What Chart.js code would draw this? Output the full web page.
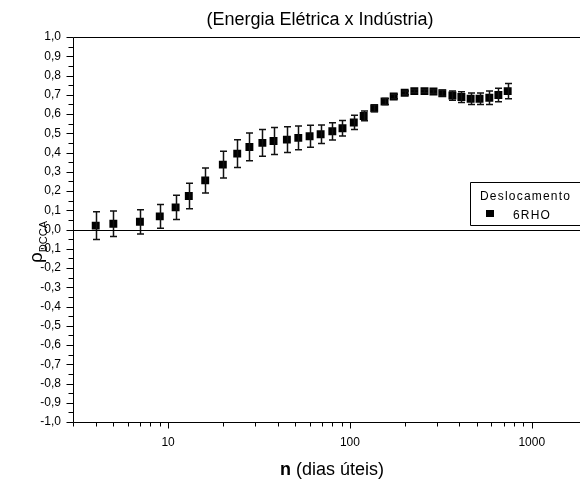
<!DOCTYPE html>
<html>
<head>
<meta charset="utf-8">
<script src="https://cdn.jsdelivr.net/npm/chart.js@4.4.1/dist/chart.umd.min.js"></script>
<style>
  html, body { margin: 0; padding: 0; background: #fff; }
  #wrap { width: 580px; height: 482px; }
</style>
</head>
<body>
<div id="wrap"><canvas id="myChart" width="580" height="482"></canvas></div>
<script>
const chartTitle = "(Energia Elétrica x Indústria)";
const legendTitle = "Deslocamento";
const seriesName = "6RHO";
const xTickLabels = [10, 100, 1000];

// n (dias úteis)
const nDays = [4, 5, 7, 9, 11, 13, 16, 20, 24, 28, 33, 38, 45, 52, 60, 69, 80, 91, 105,
  119, 136, 155, 174, 200, 226, 257, 288, 322, 366, 410, 461, 516, 584, 655, 737];
// rho DCCA
const rho = [0.02, 0.03, 0.04, 0.068, 0.115, 0.174, 0.255, 0.337, 0.394, 0.429, 0.45, 0.46,
  0.467, 0.476, 0.484, 0.495, 0.51, 0.526, 0.556, 0.59, 0.63, 0.665, 0.691, 0.71, 0.719,
  0.719, 0.717, 0.708, 0.696, 0.688, 0.679, 0.679, 0.684, 0.699, 0.719];
// half-width of the error bars
const rhoErr = [0.072, 0.066, 0.063, 0.062, 0.063, 0.066, 0.065, 0.07, 0.072, 0.072, 0.07,
  0.07, 0.067, 0.062, 0.057, 0.048, 0.045, 0.04, 0.037, 0.025, 0.018, 0.015, 0.012, 0.01,
  0.008, 0.008, 0.01, 0.015, 0.024, 0.028, 0.03, 0.03, 0.035, 0.035, 0.04];

const points = nDays.map((n, i) => ({ x: n, y: rho[i] }));
const FONT = "'Liberation Sans', Arial, sans-serif";

function fmtComma(v) {
  let s = (Math.abs(v) < 1e-9 ? 0 : v).toFixed(1);
  return s.replace(".", ",");
}

// error bars, axis frame, minor ticks, titles and legend box
const decorations = {
  id: "decorations",
  afterDatasetsDraw(chart) {
    const ctx = chart.ctx;
    const xs = chart.scales.x;
    const ys = chart.scales.y;

    ctx.save();
    ctx.strokeStyle = "#111";
    ctx.lineWidth = 1.5;
    nDays.forEach((n, i) => {
      const px = Math.round(xs.getPixelForValue(n)) + 0.5;
      const top = ys.getPixelForValue(rho[i] + rhoErr[i]);
      const bot = ys.getPixelForValue(rho[i] - rhoErr[i]);
      ctx.beginPath();
      ctx.moveTo(px, top);
      ctx.lineTo(px, bot);
      ctx.moveTo(px - 3.5, top);
      ctx.lineTo(px + 3.5, top);
      ctx.moveTo(px - 3.5, bot);
      ctx.lineTo(px + 3.5, bot);
      ctx.stroke();
    });
    ctx.restore();
  },
  afterDraw(chart) {
    const ctx = chart.ctx;
    const xs = chart.scales.x;
    const ys = chart.scales.y;
    const area = chart.chartArea;
    const W = chart.width;

    ctx.save();
    ctx.strokeStyle = "#000";
    ctx.lineWidth = 1;

    // frame: left, bottom, top (running off the right edge); zero line
    const L = Math.round(area.left) + 0.5;
    const B = Math.round(area.bottom) + 0.5;
    const T = Math.round(area.top) + 0.5;
    const Z = Math.round(ys.getPixelForValue(0)) + 0.5;
    ctx.beginPath();
    ctx.moveTo(L, T); ctx.lineTo(W, T);
    ctx.moveTo(L, T); ctx.lineTo(L, B);
    ctx.moveTo(L, B); ctx.lineTo(W, B);
    ctx.moveTo(L, Z); ctx.lineTo(W, Z);
    ctx.stroke();

    // y ticks every 0.05, longer on the labelled ones
    ctx.beginPath();
    for (let k = -20; k <= 20; k++) {
      const py = Math.round(ys.getPixelForValue(k / 20)) + 0.5;
      const len = k % 2 === 0 ? 7 : 5;
      ctx.moveTo(L - len, py);
      ctx.lineTo(L, py);
    }
    // x ticks on the log axis
    for (let dec = 1; dec <= 1000; dec *= 10) {
      for (let m = 1; m <= 9; m++) {
        const v = m * dec;
        if (v < xs.min || v > xs.max) continue;
        const px = Math.round(xs.getPixelForValue(v)) + 0.5;
        const len = m === 1 ? 6 : 4;
        ctx.moveTo(px, B);
        ctx.lineTo(px, B + len);
      }
    }
    ctx.stroke();

    // chart title
    ctx.fillStyle = "#000";
    ctx.font = "18px " + FONT;
    ctx.textAlign = "center";
    ctx.textBaseline = "middle";
    ctx.fillText(chartTitle, 320, 20);

    // x axis title: bold n followed by the unit
    ctx.textAlign = "left";
    ctx.textBaseline = "alphabetic";
    ctx.font = "bold 18px " + FONT;
    const nW = ctx.measureText("n").width;
    ctx.font = "18px " + FONT;
    const restW = ctx.measureText(" (dias úteis)").width;
    const startX = 332 - (nW + restW) / 2;
    ctx.font = "bold 18px " + FONT;
    ctx.fillText("n", startX, 475);
    ctx.font = "18px " + FONT;
    ctx.fillText(" (dias úteis)", startX + nW, 475);

    // y axis title: rho with DCCA subscript
    ctx.save();
    ctx.translate(42, 242);
    ctx.rotate(-Math.PI / 2);
    ctx.font = "19px " + FONT;
    const rW = ctx.measureText("ρ").width;
    ctx.font = "11px " + FONT;
    const sW = ctx.measureText("DCCA").width;
    const x0 = -(rW + sW) / 2;
    ctx.font = "19px " + FONT;
    ctx.fillText("ρ", x0, 0);
    ctx.font = "11px " + FONT;
    ctx.fillText("DCCA", x0 + rW, 5);
    ctx.restore();

    // legend box
    ctx.beginPath();
    ctx.rect(470.5, 182.5, 130, 43);
    ctx.fillStyle = "#fff";
    ctx.fill();
    ctx.stroke();
    ctx.fillStyle = "#000";
    ctx.font = "12px " + FONT;
    ctx.letterSpacing = "1.2px";
    ctx.fillText(legendTitle, 480, 200);
    ctx.fillText(seriesName, 513, 219);
    ctx.fillRect(486, 210, 8, 7);
    ctx.restore();
  }
};

const ctx = document.getElementById("myChart");
new Chart(ctx, {
  type: "scatter",
  data: {
    datasets: [{
      label: seriesName,
      data: points,
      pointStyle: "rect",
      pointRadius: 5.6,
      pointHoverRadius: 5.6,
      backgroundColor: "#000",
      borderColor: "#000",
      borderWidth: 0
    }]
  },
  options: {
    responsive: false,
    animation: false,
    events: [],
    layout: { padding: { top: 37, right: 0, left: 0, bottom: 0 } },
    plugins: {
      legend: { display: false },
      tooltip: { enabled: false }
    },
    scales: {
      x: {
        type: "logarithmic",
        min: 3,
        max: 1715,
        afterFit(scale) {
          scale.height = 60;
          scale.paddingLeft = 0;
          scale.paddingRight = 0;
        },
        grid: { display: false, drawTicks: false },
        border: { display: false },
        ticks: {
          autoSkip: false,
          maxRotation: 0,
          padding: 13,
          color: "#000",
          font: { family: FONT, size: 12 },
          callback: (v) => xTickLabels.includes(v) ? String(v) : ""
        }
      },
      y: {
        min: -1,
        max: 1,
        afterFit(scale) {
          scale.width = 73;
          scale.paddingTop = 0;
          scale.paddingBottom = 0;
        },
        grid: { display: false, drawTicks: false },
        border: { display: false },
        ticks: {
          stepSize: 0.1,
          padding: 12,
          color: "#000",
          font: { family: FONT, size: 12 },
          callback: (v) => fmtComma(v)
        }
      }
    }
  },
  plugins: [decorations]
});
</script>
</body>
</html>
